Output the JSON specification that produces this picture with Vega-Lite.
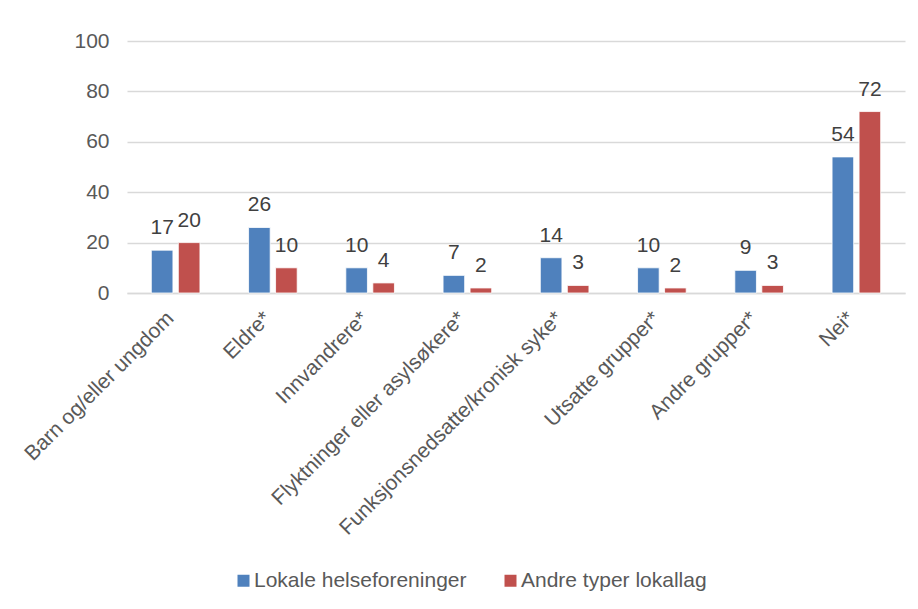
{
  "$schema": "https://vega.github.io/schema/vega-lite/v6.json",
  "width": 778,
  "height": 252,
  "autosize": {"type": "none"},
  "padding": {"left": 127, "top": 41, "right": 13, "bottom": 316},
  "background": "white",
  "data": {
    "values": [
      {"kategori": "Barn og/eller ungdom", "gruppe": "Lokale helseforeninger", "verdi": 17},
      {"kategori": "Barn og/eller ungdom", "gruppe": "Andre typer lokallag", "verdi": 20},
      {"kategori": "Eldre*", "gruppe": "Lokale helseforeninger", "verdi": 26},
      {"kategori": "Eldre*", "gruppe": "Andre typer lokallag", "verdi": 10},
      {"kategori": "Innvandrere*", "gruppe": "Lokale helseforeninger", "verdi": 10},
      {"kategori": "Innvandrere*", "gruppe": "Andre typer lokallag", "verdi": 4},
      {"kategori": "Flyktninger eller asylsøkere*", "gruppe": "Lokale helseforeninger", "verdi": 7},
      {"kategori": "Flyktninger eller asylsøkere*", "gruppe": "Andre typer lokallag", "verdi": 2},
      {"kategori": "Funksjonsnedsatte/kronisk syke*", "gruppe": "Lokale helseforeninger", "verdi": 14},
      {"kategori": "Funksjonsnedsatte/kronisk syke*", "gruppe": "Andre typer lokallag", "verdi": 3},
      {"kategori": "Utsatte grupper*", "gruppe": "Lokale helseforeninger", "verdi": 10},
      {"kategori": "Utsatte grupper*", "gruppe": "Andre typer lokallag", "verdi": 2},
      {"kategori": "Andre grupper*", "gruppe": "Lokale helseforeninger", "verdi": 9},
      {"kategori": "Andre grupper*", "gruppe": "Andre typer lokallag", "verdi": 3},
      {"kategori": "Nei*", "gruppe": "Lokale helseforeninger", "verdi": 54},
      {"kategori": "Nei*", "gruppe": "Andre typer lokallag", "verdi": 72}
    ]
  },
  "encoding": {
    "x": {
      "field": "kategori",
      "type": "nominal",
      "sort": null,
      "scale": {"paddingInner": 0.5, "paddingOuter": 0.25},
      "axis": {
        "title": null,
        "labelAngle": -45,
        "labelAlign": "right",
        "labelBaseline": "middle",
        "labelFont": "Liberation Sans",
        "labelFontSize": 21,
        "labelColor": "#595959",
        "labelPadding": 22,
        "labelOffset": -5,
        "labelLimit": 500,
        "ticks": false,
        "domainColor": "#d9d9d9",
        "domainWidth": 1.5
      }
    },
    "xOffset": {
      "field": "gruppe",
      "type": "nominal",
      "sort": ["Lokale helseforeninger", "Andre typer lokallag"],
      "scale": {"paddingInner": 0.2}
    },
    "y": {
      "field": "verdi",
      "type": "quantitative",
      "scale": {"domain": [0, 100], "nice": false},
      "axis": {
        "title": null,
        "values": [0, 20, 40, 60, 80, 100],
        "grid": true,
        "gridColor": "#d9d9d9",
        "gridWidth": 1.5,
        "domain": false,
        "ticks": false,
        "labelFont": "Liberation Sans",
        "labelFontSize": 21,
        "labelColor": "#595959",
        "labelPadding": 18
      }
    }
  },
  "layer": [
    {
      "mark": {"type": "bar", "stroke": "white", "strokeWidth": 0.8},
      "encoding": {
        "color": {
          "field": "gruppe",
          "type": "nominal",
          "sort": ["Lokale helseforeninger", "Andre typer lokallag"],
          "scale": {"range": ["#4f81bd", "#c0504d"]},
          "legend": {
            "title": null,
            "orient": "none",
            "direction": "horizontal",
            "legendX": 106,
            "legendY": 529,
            "symbolType": "square",
            "symbolSize": 144,
            "symbolStrokeWidth": 0,
            "labelFont": "Liberation Sans",
            "labelFontSize": 21,
            "labelColor": "#595959",
            "labelOffset": 0,
            "labelLimit": 400,
            "columnPadding": 33
          }
        }
      }
    },
    {
      "mark": {"type": "text", "baseline": "alphabetic", "dy": -16, "font": "Liberation Sans", "fontSize": 21, "color": "#404040"},
      "encoding": {
        "text": {"field": "verdi", "type": "quantitative"}
      }
    }
  ],
  "config": {"view": {"stroke": null}}
}
